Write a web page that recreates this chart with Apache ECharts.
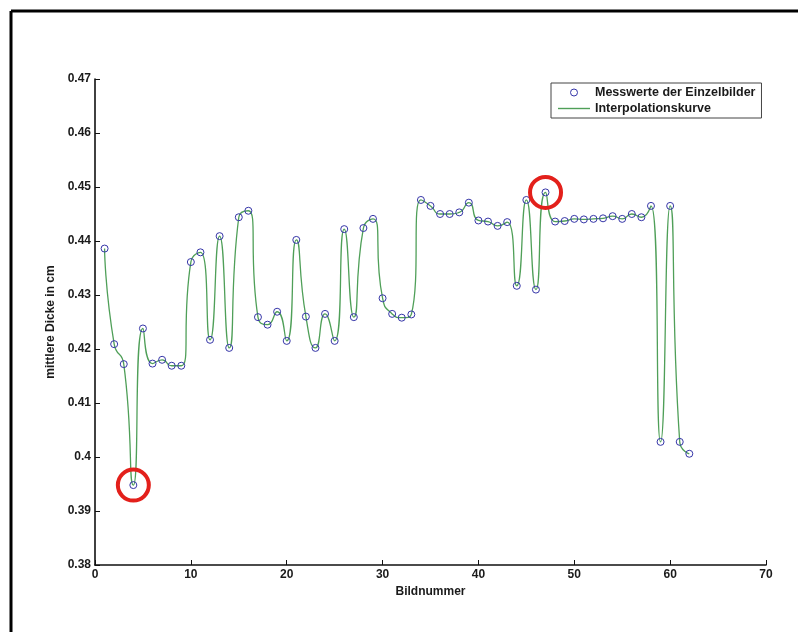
<!DOCTYPE html>
<html>
<head>
<meta charset="utf-8">
<script src="https://cdn.jsdelivr.net/npm/echarts@6/dist/echarts.min.js"></script>
<style>
  html, body { margin: 0; padding: 0; background: #fff; }
  #chart { width: 798px; height: 632px; }
</style>
</head>
<body>
<div id="chart"></div>
<script>
// Bildnummer (x) und gemessene mittlere Dicke (y)
var bildnummer = [1, 2, 3, 4, 5, 6, 7, 8, 9, 10,
  11, 12, 13, 14, 15, 16, 17, 18, 19, 20,
  21, 22, 23, 24, 25, 26, 27, 28, 29, 30,
  31, 32, 33, 34, 35, 36, 37, 38, 39, 40,
  41, 42, 43, 44, 45, 46, 47, 48, 49, 50,
  51, 52, 53, 54, 55, 56, 57, 58, 59, 60,
  61, 62];
var dicke = [0.4386, 0.4209, 0.4172, 0.3948, 0.4238, 0.4173, 0.4180, 0.4169, 0.4169, 0.4361,
  0.4379, 0.4217, 0.4409, 0.4202, 0.4444, 0.4456, 0.4259, 0.4245, 0.4269, 0.4215,
  0.4402, 0.4260, 0.4202, 0.4265, 0.4215, 0.4422, 0.4259, 0.4424, 0.4441, 0.4294,
  0.4265, 0.4258, 0.4264, 0.4476, 0.4465, 0.4450, 0.4450, 0.4453, 0.4471, 0.4438,
  0.4436, 0.4428, 0.4435, 0.4317, 0.4476, 0.4310, 0.4490, 0.4436, 0.4437, 0.4441,
  0.4440, 0.4441, 0.4442, 0.4446, 0.4441, 0.4450, 0.4444, 0.4465, 0.4028, 0.4465,
  0.4028, 0.4006];
// markierte Bilder (rote Kreise)
var markiert = [4, 47];

var punkte = bildnummer.map(function (b, i) { return [b, dicke[i]]; });
var rot = markiert.map(function (b) { return [b, dicke[bildnummer.indexOf(b)]]; });

var myChart = echarts.init(document.getElementById('chart'));
var schrift = { fontFamily: 'Liberation Sans', fontSize: 12, fontWeight: 'bold', color: '#1a1a1a' };
var gruen = '#4f9f58';
var blau = '#3535a8';

var option = {
  animation: false,
  backgroundColor: '#fff',
  grid: { left: 95, right: 32, top: 79, bottom: 67 },
  // Rahmen links und oben
  graphic: [
    { type: 'line', shape: { x1: 11, y1: 11, x2: 798, y2: 11 }, style: { stroke: '#000', lineWidth: 3 } },
    { type: 'line', shape: { x1: 11, y1: 11, x2: 11, y2: 632 }, style: { stroke: '#000', lineWidth: 3 } }
  ],
  legend: {
    data: [
      { name: 'Messwerte der Einzelbilder', itemStyle: { borderWidth: 1, borderColor: blau, color: 'rgba(255,255,255,0)' } },
      { name: 'Interpolationskurve', icon: 'path://M0,0 L32,0 L32,1.4 L0,1.4 Z' }
    ],
    orient: 'vertical',
    left: 551,
    top: 83,
    padding: [3, 6, 3, 7],
    itemWidth: 32,
    itemHeight: 7,
    itemGap: 3,
    borderColor: '#444',
    borderWidth: 1,
    textStyle: Object.assign({}, schrift, { fontSize: 12.5 })
  },
  xAxis: {
    type: 'value',
    min: 0,
    max: 70,
    interval: 10,
    name: 'Bildnummer',
    nameLocation: 'middle',
    nameGap: 19,
    nameTextStyle: schrift,
    axisLine: { lineStyle: { color: '#111', width: 1.6 } },
    axisTick: { inside: true, length: 5, lineStyle: { color: '#111' } },
    axisLabel: Object.assign({ margin: 4 }, schrift),
    splitLine: { show: false }
  },
  yAxis: {
    type: 'value',
    min: 0.38,
    max: 0.47,
    interval: 0.01,
    name: 'mittlere Dicke in cm',
    nameLocation: 'middle',
    nameGap: 34,
    nameTextStyle: schrift,
    axisLine: { show: true, lineStyle: { color: '#111', width: 1.6 } },
    axisTick: { show: true, inside: true, length: 5, lineStyle: { color: '#111' } },
    axisLabel: Object.assign({ margin: 4 }, schrift),
    splitLine: { show: false }
  },
  series: [
    {
      name: 'Interpolationskurve',
      type: 'line',
      data: punkte,
      smooth: 0.6,
      symbol: 'none',
      z: 2,
      lineStyle: { color: gruen, width: 1.3 },
      itemStyle: { color: gruen }
    },
    {
      name: 'Messwerte der Einzelbilder',
      type: 'scatter',
      data: punkte,
      symbol: 'circle',
      symbolSize: 7,
      z: 3,
      itemStyle: { color: 'rgba(255,255,255,0)', borderColor: blau, borderWidth: 1, opacity: 1 }
    },
    {
      name: 'markiert',
      type: 'scatter',
      data: rot,
      symbol: 'circle',
      symbolSize: 31,
      z: 4,
      silent: true,
      itemStyle: { color: 'rgba(255,255,255,0)', borderColor: '#e3201b', borderWidth: 4, opacity: 1 }
    }
  ]
};

myChart.setOption(option);
window.addEventListener('resize', function () {
  myChart.resize();
});
</script>
</body>
</html>
